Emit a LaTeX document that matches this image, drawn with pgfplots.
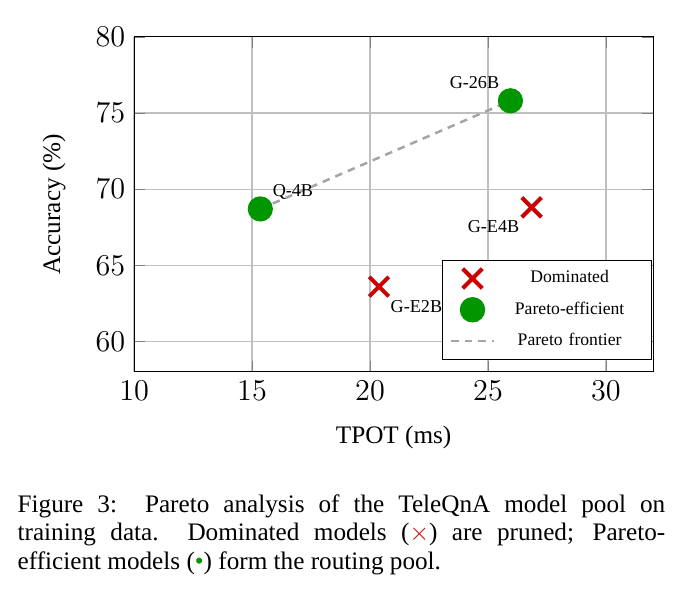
\documentclass[border=0pt]{standalone}
\usepackage{pgfplots}
\pgfplotsset{compat=1.18}
\usepackage{fontspec}
\setmainfont{Liberation Serif}
\definecolor{domred}{RGB}{204,0,0}
\definecolor{pargreen}{RGB}{0,150,0}
\definecolor{frontgray}{RGB}{165,165,165}
\begin{document}
\begin{tikzpicture}
\path[use as bounding box] (-53.2pt,-86.9pt) rectangle (220.6pt,147.6pt);
\begin{axis}[
  at={(0pt,0pt)}, anchor=south west,
  scale only axis,
  width=206pt, height=133pt,
  xmin=10, xmax=32, ymin=58, ymax=80,
  xtick={10,15,20,25,30}, ytick={60,65,70,75,80},
  grid=major,
  major grid style={draw=black!25, line width=0.5pt},
  ticklabel style={font=\fontsize{11.5}{12}\selectfont},
  xlabel={TPOT (ms)}, ylabel={Accuracy (\%)},
  xlabel shift=3.5pt, ylabel shift=5pt,
  label style={font=\fontsize{10}{12}\selectfont},
  legend style={at={(0.998,0.036)}, anchor=south east,
    font=\fontsize{7}{8.5}\selectfont, draw=black, line width=0.5pt,
    row sep=2pt,
    nodes={text width=55pt, align=center}},
  legend cell align=center,
]
\addplot[frontgray, dashed, line width=1pt, dash pattern=on 3pt off 2.4pt, forget plot]
  coordinates {(15.35,68.7) (25.95,75.8)};
\addplot[only marks, mark=x, mark size=5.5pt, color=domred, line width=1.6pt]
  coordinates {(20.38,63.6) (26.85,68.8)};
\addlegendentry{Dominated}
\addplot[only marks, mark=*, mark size=4.8pt, color=pargreen, fill=pargreen]
  coordinates {(15.35,68.7) (25.95,75.8)};
\addlegendentry{Pareto-efficient}
\addlegendimage{frontgray, dashed, line width=1pt, dash pattern=on 3pt off 2.4pt}
\addlegendentry{Pareto frontier}
\node[font=\fontsize{7.2}{9}\selectfont, anchor=south west] at (axis cs:15.5,68.75) {Q-4B};
\node[font=\fontsize{7.2}{9}\selectfont, anchor=south east] at (axis cs:25.85,76.0) {G-26B};
\node[font=\fontsize{7.2}{9}\selectfont, anchor=north east] at (axis cs:26.7,68.5) {G-E4B};
\node[font=\fontsize{7.2}{9}\selectfont, anchor=north west] at (axis cs:20.5,63.3) {G-E2B};
\end{axis}
\node[anchor=base west, inner sep=0pt, text width=257pt, align=justify,
  font=\fontsize{10}{11.3}\selectfont] at (-46.4pt,-55.6pt)
  {Figure 3:\ \ Pareto analysis of the TeleQnA model pool on\linebreak training data.\ \ Dominated models ({\color{domred}$\times$}) are pruned; Pareto-\linebreak efficient models ({\color{pargreen}•}) form the routing pool.};
\end{tikzpicture}
\end{document}
